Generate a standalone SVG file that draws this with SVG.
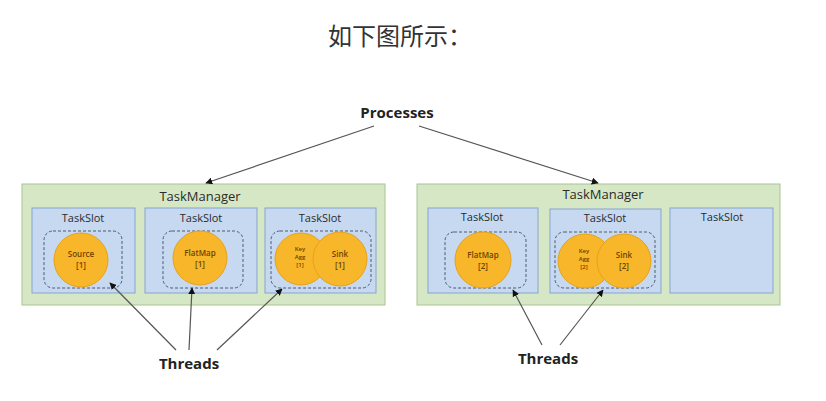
<svg xmlns="http://www.w3.org/2000/svg" width="826" height="401" viewBox="0 0 826 401">
<defs>
<marker id="arr" viewBox="0 0 10 10" refX="9" refY="5" markerWidth="7" markerHeight="7" orient="auto-start-reverse" markerUnits="userSpaceOnUse">
<path d="M0,0 L10,5 L0,10 z" fill="#111"/>
</marker>
<style>
.tm{fill:#d6e7c6;stroke:#a8c492;stroke-width:1}
.slot{fill:#c6d9f1;stroke:#86a5cb;stroke-width:1}
.grp{fill:none;stroke:#4d5a6e;stroke-width:1;stroke-dasharray:3 2}
.op{fill:#f8b72a;stroke:#e6a11a;stroke-width:1}
.t{font-family:"Open Sans","Liberation Sans",sans-serif;fill:#2b2b2b;text-anchor:middle}
.tmt{font-size:13px}
.st{font-size:11px}
.ot{font-family:"Open Sans","Liberation Sans",sans-serif;fill:#6b4300;text-anchor:middle;font-size:8px;font-weight:600}
.sm{font-size:6px}
.big{font-family:"Open Sans","Liberation Sans",sans-serif;font-weight:bold;font-size:15px;fill:#222;text-anchor:middle}
.conn{stroke:#555;stroke-width:1.2;fill:none;marker-end:url(#arr)}
</style>
</defs>
<rect width="826" height="401" fill="#fff"/>
<text x="400" y="45" font-family="'Noto Sans CJK SC',sans-serif" font-size="24" fill="#333" text-anchor="middle">如下图所示：</text>
<g id="processes"><text class="big" x="397" y="118">Processes</text></g>
<g id="tm1">
<rect class="tm" x="22" y="184" width="363" height="121"/>
<text class="t tmt" x="200" y="201">TaskManager</text>
</g>
<g id="tm1-slot1"><rect class="slot" x="32" y="208" width="103" height="85"/><text class="t st" x="83" y="222">TaskSlot</text><rect class="grp" x="44" y="231" width="78" height="57" rx="9"/></g>
<g id="tm1-slot2"><rect class="slot" x="145" y="208" width="112" height="85"/><text class="t st" x="201" y="222">TaskSlot</text><rect class="grp" x="163" y="231" width="80" height="57" rx="9"/></g>
<g id="tm1-slot3"><rect class="slot" x="265" y="208" width="111" height="85"/><text class="t st" x="320" y="222">TaskSlot</text><rect class="grp" x="271" y="231" width="100" height="57" rx="9"/></g>
<g id="source1"><circle class="op" cx="81" cy="260" r="27"/><text class="ot" x="81" y="257">Source</text><text class="ot" x="81" y="268">[1]</text></g>
<g id="flatmap1"><circle class="op" cx="200" cy="258" r="27"/><text class="ot" x="200" y="256">FlatMap</text><text class="ot" x="200" y="267">[1]</text></g>
<g id="keyagg1"><circle class="op" cx="301" cy="259" r="26"/><text class="ot sm" x="300" y="251">Key</text><text class="ot sm" x="300" y="259">Agg</text><text class="ot sm" x="300" y="267">[1]</text></g>
<g id="sink1"><circle class="op" cx="340" cy="259" r="27"/><text class="ot" x="340" y="257">Sink</text><text class="ot" x="340" y="268">[1]</text></g>
<g id="tm2">
<rect class="tm" x="417" y="184" width="363" height="121"/>
<text class="t tmt" x="603" y="199">TaskManager</text>
</g>
<g id="tm2-slot1"><rect class="slot" x="428" y="208" width="110" height="85"/><text class="t st" x="482" y="221">TaskSlot</text><rect class="grp" x="445" y="232" width="81" height="56" rx="9"/></g>
<g id="tm2-slot2"><rect class="slot" x="550" y="209" width="111" height="84"/><text class="t st" x="605" y="222">TaskSlot</text><rect class="grp" x="555" y="232" width="100" height="56" rx="9"/></g>
<g id="tm2-slot3"><rect class="slot" x="670" y="208" width="103" height="85"/><text class="t st" x="722" y="221">TaskSlot</text></g>
<g id="flatmap2"><circle class="op" cx="483" cy="260" r="28"/><text class="ot" x="483" y="258">FlatMap</text><text class="ot" x="483" y="269">[2]</text></g>
<g id="keyagg2"><circle class="op" cx="585" cy="261" r="27"/><text class="ot sm" x="584" y="253">Key</text><text class="ot sm" x="584" y="261">Agg</text><text class="ot sm" x="584" y="269">[2]</text></g>
<g id="sink2"><circle class="op" cx="624" cy="261" r="27"/><text class="ot" x="624" y="258">Sink</text><text class="ot" x="624" y="269">[2]</text></g>
<g id="threads1"><text class="big" x="189" y="369">Threads</text></g>
<g id="threads2"><text class="big" x="548" y="364">Threads</text></g>
<g id="connectors">
<line class="conn" x1="374" y1="126" x2="206" y2="183"/>
<line class="conn" x1="419" y1="126" x2="598" y2="183"/>
<line class="conn" x1="176" y1="350" x2="110" y2="283"/>
<line class="conn" x1="189" y1="350" x2="192" y2="288"/>
<line class="conn" x1="217" y1="350" x2="282" y2="289"/>
<line class="conn" x1="542" y1="345" x2="513" y2="290"/>
<line class="conn" x1="560" y1="345" x2="603" y2="290"/>
</g>
</svg>
